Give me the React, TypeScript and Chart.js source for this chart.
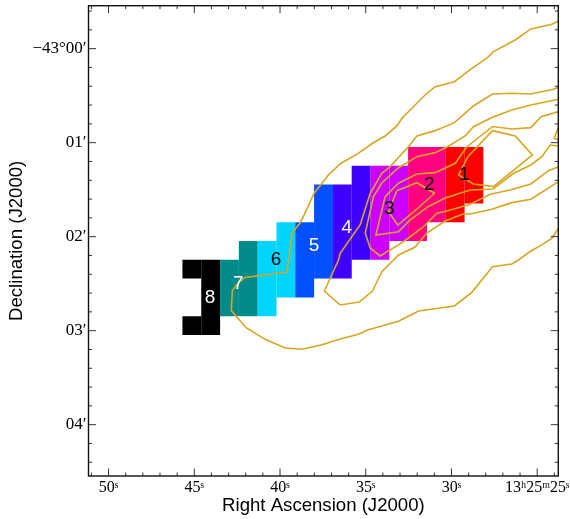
import React, { useEffect, useRef } from "react";
import { Chart, registerables } from "chart.js";

Chart.register(...registerables);

// Right ascension in seconds of 13h25m, declination in arcminutes south of -43 deg.
const cells8 = [
  { x: 45.141, y: [2.246, 2.446] },
  { x: 45.141, y: [2.846, 3.046] },
  { x: 44.044, y: [2.246, 3.046] },
];
const cells7 = [
  { x: 42.948, y: [2.246, 2.846] },
  { x: 41.851, y: [2.046, 2.846] },
];
const cells6 = [
  { x: 40.754, y: [2.046, 2.846] },
  { x: 39.657, y: [1.846, 2.646] },
];
const cells5 = [
  { x: 38.56, y: [1.846, 2.646] },
  { x: 37.464, y: [1.446, 2.446] },
];
const cells4 = [
  { x: 36.367, y: [1.446, 2.446] },
  { x: 35.27, y: [1.246, 2.246] },
];
const cells3 = [
  { x: 34.173, y: [1.246, 2.246] },
  { x: 33.076, y: [1.246, 2.046] },
];
const cells2 = [
  { x: 31.98, y: [1.046, 2.046] },
  { x: 30.883, y: [1.046, 1.846] },
];
const cells1 = [
  { x: 29.786, y: [1.046, 1.846] },
  { x: 28.689, y: [1.046, 1.646] },
];
const cellColors = ["#ff0000", "#ff0080", "#cc00ff", "#4000ff", "#0050ff", "#00d5ff", "#008b8b", "#000000"];

const regionLabels = [
  { text: "1", x: 29.26, y: 1.344, color: "#000000" },
  { text: "2", x: 31.3, y: 1.45, color: "#000000" },
  { text: "3", x: 33.63, y: 1.705, color: "#000000" },
  { text: "4", x: 36.1, y: 1.904, color: "#ffffff" },
  { text: "5", x: 38.01, y: 2.096, color: "#ffffff" },
  { text: "6", x: 40.23, y: 2.248, color: "#000000" },
  { text: "7", x: 42.43, y: 2.496, color: "#ffffff" },
  { text: "8", x: 44.08, y: 2.649, color: "#ffffff" },
];

const contourA = [
  [23.76, -0.295], [24.14, -0.26], [25.37, -0.21], [26.28, -0.092], [27.55, 0.032], [27.94, 0.102],
  [28.81, 0.209], [29.83, 0.351], [30.95, 0.404], [31.54, 0.493], [32.31, 0.634], [32.89, 0.741],
  [33.19, 0.822], [33.87, 0.929], [34.61, 1.006], [35.48, 1.12], [36.44, 1.219], [37.18, 1.344],
  [38.01, 1.538], [38.59, 1.769], [38.83, 1.854], [39.29, 1.961], [39.6, 2.376], [42.04, 2.434],
  [42.45, 2.493], [42.78, 2.575], [42.84, 2.787], [41.98, 2.968], [40.87, 3.092], [39.7, 3.184],
  [38.73, 3.198], [37.6, 3.152], [36.49, 3.088], [35.38, 3.035], [34.9, 2.993], [34.06, 2.95],
  [33.09, 2.9], [31.92, 2.79], [29.83, 2.737], [28.81, 2.592], [27.61, 2.319], [26.48, 2.291],
  [26.09, 2.248], [25.37, 2.152], [24.73, 2.088], [24.14, 2.017], [23.76, 1.911],
];
const contourB = [
  [23.76, 0.411], [24.05, 0.432], [25.37, 0.482], [26.48, 0.475], [27.61, 0.482], [28.72, 0.61],
  [29.83, 0.787], [30.95, 0.872], [32.02, 0.929], [32.51, 1.043], [33.58, 1.255], [34.06, 1.326],
  [34.74, 1.538], [35.33, 1.876], [36.49, 2.177], [36.59, 2.248], [37.41, 2.578], [36.49, 2.727],
  [35.38, 2.695], [34.61, 2.578], [34.06, 2.372], [33.09, 2.195], [32.12, 2.11], [31.44, 1.961],
  [30.37, 1.833], [29.32, 1.759], [28.91, 1.759], [27.65, 1.709], [26.48, 1.638], [25.37, 1.602],
  [23.76, 1.415],
];
const contourC = [
  [23.76, 0.538], [25.37, 0.599], [26.48, 0.652], [27.61, 0.73], [28.72, 0.83], [29.2, 0.929],
  [30.23, 1.043], [30.95, 1.106], [32.02, 1.149], [33.11, 1.269], [34.06, 1.429], [34.55, 1.574],
  [35.03, 1.961], [34.74, 2.12], [34.16, 2.205], [33.09, 2.088], [32.51, 2.014], [31.65, 1.897],
  [30.85, 1.751], [30.27, 1.727], [28.91, 1.655], [27.74, 1.549], [26.58, 1.503], [25.37, 1.439],
  [24.34, 1.298], [23.76, 1.255],
];
const contourD = [
  [23.76, 0.67], [24.77, 0.723], [25.37, 0.84], [26.48, 0.854], [27.6, 0.828], [29.1, 1.043],
  [29.78, 1.219], [30.95, 1.319], [32.02, 1.333], [33.09, 1.432], [33.87, 1.574], [34.41, 1.982],
  [33.09, 1.947], [32.41, 1.822], [31.36, 1.681], [30.37, 1.588], [28.91, 1.503], [27.57, 1.493],
  [26.38, 1.326], [25.37, 1.237], [24.73, 1.149], [24.24, 1.025], [23.76, 1.035],
];
const contourE = [
  [27.61, 0.872], [26.28, 0.929], [25.28, 1.131], [26.48, 1.308], [27.55, 1.468], [28.72, 1.439],
  [29.59, 1.344], [29.04, 1.149], [27.61, 0.872],
];
const contourF = [
  [33.19, 1.511], [32.02, 1.426], [30.99, 1.538], [31.94, 1.695], [33.13, 1.876], [33.67, 1.734],
  [33.19, 1.511],
];
const contourEdge = [
  [23.76, 0.83], [24.01, 0.953], [23.76, 0.971],
];
const contours = [contourA, contourB, contourC, contourD, contourE, contourF, contourEdge];
const contourColor = "#daa520";

const xLimits = [23.77, 51.17];
const yLimits = [-0.457, 4.546];
const xTitle = "Right Ascension (J2000)";
const yTitle = "Declination (J2000)";
const serif = "'Liberation Serif', serif";
const sans = "'Liberation Sans', sans-serif";

const isWhole = (v: number) => Math.abs(v - Math.round(v)) < 1e-6;

const raLabel = (v: number) => {
  const r = Math.round(v);
  if (!isWhole(v) || r % 5 !== 0) return "";
  return r === 25 ? "13ʰ25ᵐ25ˢ" : `${r}ˢ`;
};
const decLabel = (v: number) => {
  if (!isWhole(v)) return "";
  const r = Math.round(v);
  if (r < 0) return "";
  return r === 0 ? "−43°00′" : `0${r}′`;
};

const framePlugin = {
  id: "frame",
  afterDatasetsDraw(chart: any) {
    const { ctx, chartArea: a, scales } = chart;
    ctx.save();
    // region numbers
    ctx.font = `19px ${sans}`;
    ctx.textAlign = "center";
    ctx.textBaseline = "middle";
    regionLabels.forEach((l) => {
      ctx.fillStyle = l.color;
      ctx.fillText(l.text, scales.x.getPixelForValue(l.x), scales.y.getPixelForValue(l.y));
    });
    // inward ticks on all four sides
    ctx.strokeStyle = "#333333";
    ctx.lineWidth = 1;
    ctx.beginPath();
    scales.x.ticks.forEach((t: any) => {
      const p = scales.x.getPixelForValue(t.value);
      const len = Math.round(t.value) % 5 === 0 && isWhole(t.value) ? 7.5 : 3.5;
      ctx.moveTo(p, a.top);
      ctx.lineTo(p, a.top + len);
      ctx.moveTo(p, a.bottom);
      ctx.lineTo(p, a.bottom - len);
    });
    scales.y.ticks.forEach((t: any) => {
      const p = scales.y.getPixelForValue(t.value);
      const len = isWhole(t.value) ? 7.5 : 3.5;
      ctx.moveTo(a.left, p);
      ctx.lineTo(a.left + len, p);
      ctx.moveTo(a.right, p);
      ctx.lineTo(a.right - len, p);
    });
    ctx.stroke();
    ctx.strokeStyle = "#111111";
    ctx.lineWidth = 1.4;
    ctx.strokeRect(a.left, a.top, a.right - a.left, a.bottom - a.top);
    ctx.restore();
  },
};

export default function App() {
  const ref = useRef<HTMLCanvasElement | null>(null);
  useEffect(() => {
    document.body.style.margin = "0";
    const groups = [cells1, cells2, cells3, cells4, cells5, cells6, cells7, cells8];
    const chart = new Chart(ref.current as HTMLCanvasElement, {
      type: "bar",
      data: {
        datasets: [
          ...contours.map((c) => ({
            type: "line" as const,
            data: c.map(([x, y]) => ({ x, y })),
            borderColor: contourColor,
            borderWidth: 1.6,
            pointRadius: 0,
            tension: 0,
            fill: false,
            order: 0,
          })),
          ...groups.map((g, i) => ({
            type: "bar" as const,
            data: g as any,
            backgroundColor: cellColors[i],
            borderWidth: 0,
            grouped: false,
            // the bar ruler takes its width from the 1s tick spacing; one cell is 1.097s wide
            barPercentage: 1.1,
            categoryPercentage: 1,
            order: 1,
          })),
        ],
      } as any,
      plugins: [framePlugin],
      options: {
        responsive: false,
        animation: false,
        devicePixelRatio: 1,
        layout: { padding: { left: 0, right: 11.7, top: 5.7, bottom: 0 } },
        plugins: { legend: { display: false }, tooltip: { enabled: false } },
        scales: {
          x: {
            type: "linear",
            reverse: true,
            offset: false,
            min: xLimits[0],
            max: xLimits[1],
            grid: { display: false, drawTicks: false },
            border: { display: false },
            ticks: {
              stepSize: 1,
              includeBounds: false,
              autoSkip: false,
              maxRotation: 0,
              minRotation: 0,
              padding: 2,
              color: "#000000",
              font: { family: serif, size: 16 },
              callback: (v: any) => raLabel(Number(v)),
            },
            title: {
              display: true,
              text: xTitle,
              color: "#000000",
              font: { family: sans, size: 18.6 },
              padding: { top: 0, bottom: 2 },
            },
            afterFit: (s: any) => {
              s.height = 43;
              s.paddingLeft = 0;
              s.paddingRight = 0;
            },
          },
          y: {
            type: "linear",
            reverse: true,
            min: yLimits[0],
            max: yLimits[1],
            grid: { display: false, drawTicks: false },
            border: { display: false },
            ticks: {
              stepSize: 0.2,
              includeBounds: false,
              autoSkip: false,
              padding: 2,
              color: "#000000",
              font: { family: serif, size: 17 },
              callback: (v: any) => decLabel(Number(v)),
            },
            title: {
              display: true,
              text: yTitle,
              color: "#000000",
              font: { family: sans, size: 18.6 },
              padding: { top: 6, bottom: 0 },
            },
            afterFit: (s: any) => {
              s.width = 88.5;
              s.paddingTop = 0;
              s.paddingBottom = 0;
            },
          },
        },
      } as any,
    });
    return () => chart.destroy();
  }, []);
  return (
    <canvas
      ref={ref}
      width={570}
      height={519}
      style={{ display: "block", position: "absolute", left: 0, top: 0, width: 570, height: 519 }}
    />
  );
}
